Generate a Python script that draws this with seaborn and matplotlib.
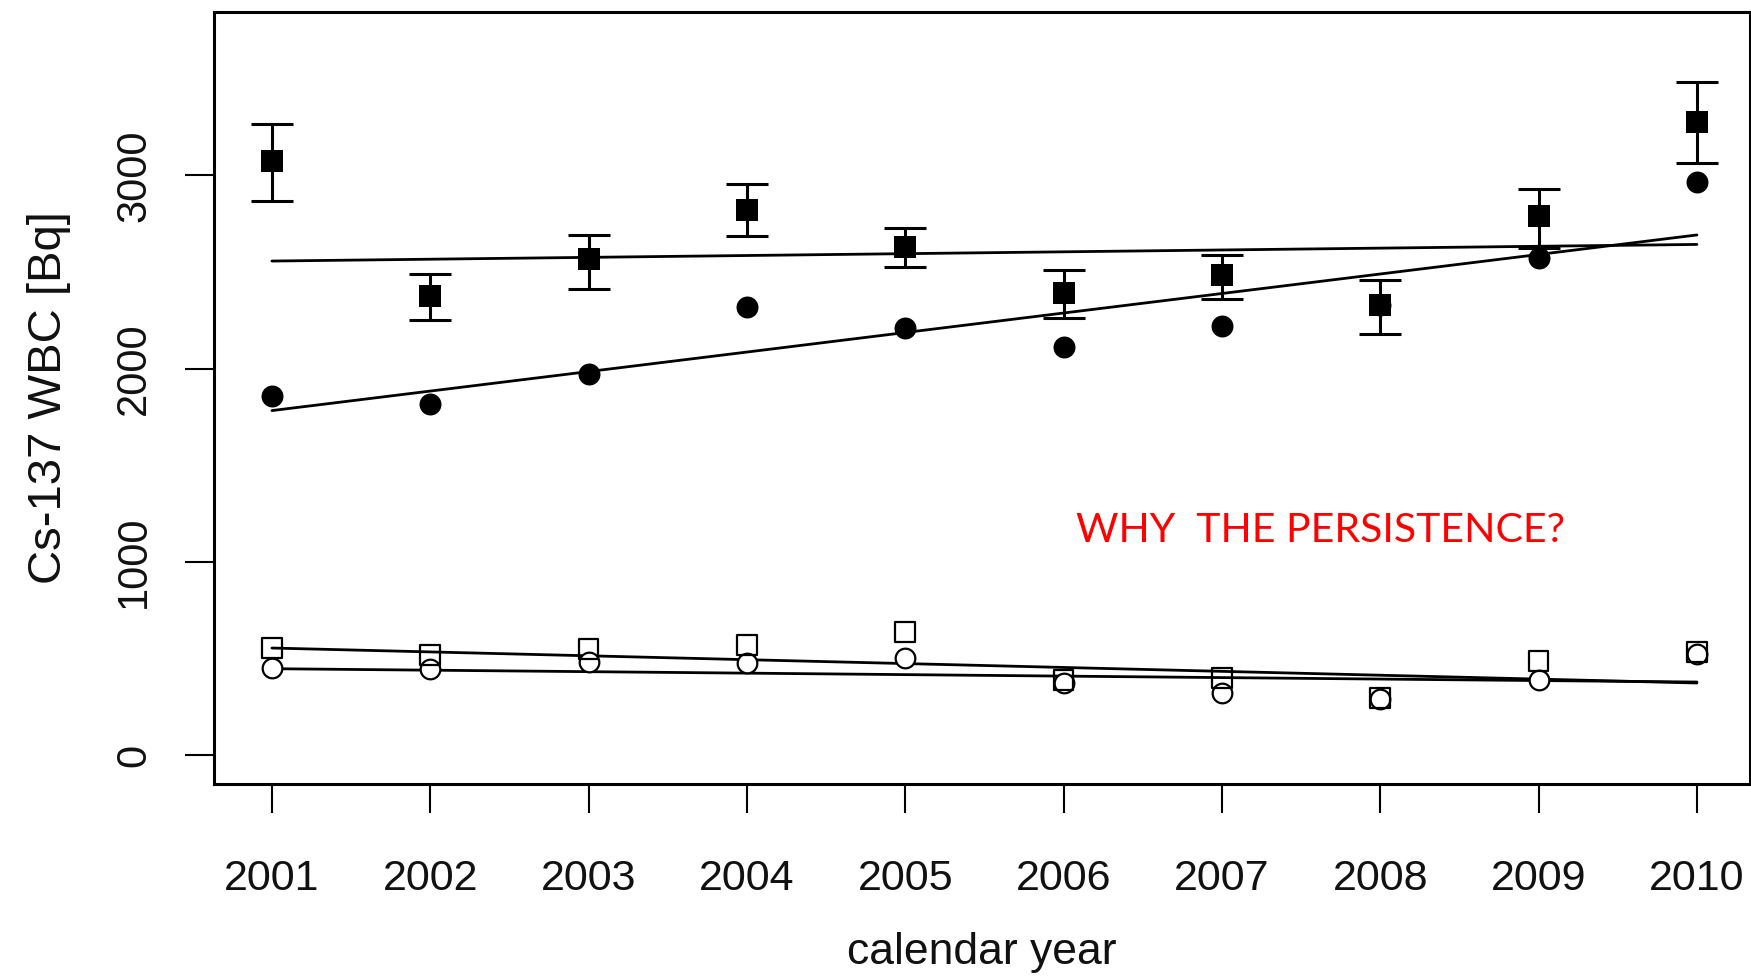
import pandas as pd
import seaborn as sns
import matplotlib.pyplot as plt

# values
years = [2001, 2002, 2003, 2004, 2005, 2006, 2007, 2008, 2009, 2010]
high_sq = [3075, 2376, 2566, 2821, 2630, 2393, 2486, 2329, 2792, 3277]
high_sq_lo = [2867, 2254, 2410, 2688, 2526, 2260, 2358, 2179, 2624, 3064]
high_sq_hi = [3266, 2491, 2694, 2954, 2728, 2509, 2590, 2459, 2931, 3486]
high_ci = [1861, 1815, 1971, 2318, 2208, 2110, 2220, 2330, 2572, 2965]
low_sq = [554, 518, 549, 569, 636, 388, 398, 295, 487, 533]
low_ci = [450, 445, 481, 476, 502, 373, 321, 290, 388, 525]

# fitted trend lines (end values at first and last year)
trend_years = [2001, 2010]
trend_high_sq = [2557, 2643]
trend_high_ci = [1783, 2692]
trend_low_sq = [554, 373]
trend_low_ci = [447, 378]

y_ticks = [0, 1000, 2000, 3000]

df = pd.DataFrame({'year': years, 'high_sq': high_sq, 'high_ci': high_ci,
                   'low_sq': low_sq, 'low_ci': low_ci})
trend = pd.DataFrame({'year': trend_years, 'high_sq': trend_high_sq, 'high_ci': trend_high_ci,
                      'low_sq': trend_low_sq, 'low_ci': trend_low_ci})

sns.set_style('white')
plt.rcParams['font.family'] = ['Liberation Sans', 'DejaVu Sans']

fig = plt.figure(figsize=(17.51, 9.77), dpi=100)
ax = fig.add_axes([0.1222, 0.1975, 0.8772, 0.7902])

# trend lines
for col in ['high_sq', 'high_ci', 'low_sq', 'low_ci']:
    sns.lineplot(data=trend, x='year', y=col, color='black', linewidth=2, ax=ax)

# error bars on the filled squares
err_lo = [v - lo for v, lo in zip(high_sq, high_sq_lo)]
err_hi = [hi - v for v, hi in zip(high_sq, high_sq_hi)]
ax.errorbar(years, high_sq, yerr=[err_lo, err_hi], fmt='none', ecolor='black',
            elinewidth=2.2, capsize=15, capthick=2.2)

# points
sns.scatterplot(data=df, x='year', y='high_ci', marker='o', s=250, color='black',
                edgecolor='black', linewidth=0, ax=ax, zorder=3)
sns.scatterplot(data=df, x='year', y='high_sq', marker='s', s=250, color='black',
                edgecolor='black', linewidth=0, ax=ax, zorder=3)
sns.scatterplot(data=df, x='year', y='low_ci', marker='o', s=200, facecolor='white',
                edgecolor='black', linewidth=1.6, ax=ax, zorder=3)
sns.scatterplot(data=df, x='year', y='low_sq', marker='s', s=200, facecolor='none',
                edgecolor='black', linewidth=1.6, ax=ax, zorder=3)

ax.text(2006.08, 1102, 'WHY  THE PERSISTENCE?', color='#ff0000', fontsize=29.5,
        family=['Lato', 'DejaVu Sans'], ha='left', va='baseline')

ax.set_xlim(2000.634, 2010.335)
ax.set_ylim(-150, 3846)
ax.set_xticks(years)
ax.set_xticklabels([str(y) for y in years])
ax.set_yticks(y_ticks)
ax.set_yticklabels([str(v) for v in y_ticks])

for side in ['top', 'right', 'bottom', 'left']:
    ax.spines[side].set_visible(True)
    ax.spines[side].set_color('black')
    ax.spines[side].set_linewidth(2.2)

ax.tick_params(axis='both', which='major', length=21, width=1.5, color='black',
               labelcolor='#111111', direction='out', bottom=True, left=True)
ax.tick_params(axis='x', pad=33, labelsize=31)
ax.tick_params(axis='y', pad=22, labelsize=30, labelrotation=90)
for lab in ax.get_yticklabels():
    lab.set_va('center')

ax.set_xlabel('calendar year', fontsize=32, color='#111111', labelpad=24)
ax.set_ylabel('Cs-137 WBC [Bq]', fontsize=34, color='#111111', labelpad=31)

fig.savefig('out.png', dpi=100)
